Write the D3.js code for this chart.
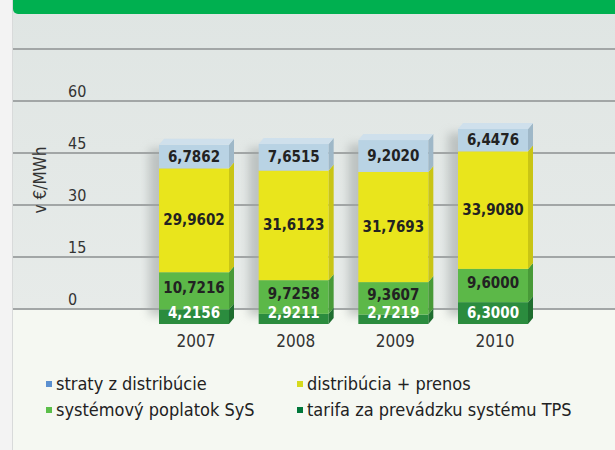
<!DOCTYPE html>
<html>
<head>
<meta charset="utf-8">
<script src="https://cdn.jsdelivr.net/npm/d3@7"></script>
<style>
  body { margin:0; background:#f2f3f2; }
  svg { display:block; }
</style>
</head>
<body>
<svg id="chart"></svg>
<script>
// data
years=["2007","2008","2009","2010"];
straty=[6.7862,7.6515,9.2020,6.4476];
distribucia=[29.9602,31.6123,31.7693,33.9080];
sys=[10.7216,9.7258,9.3607,9.6000];
tps=[4.2156,2.9211,2.7219,6.3000];
yTicks=[0,15,30,45,60];
seriesNames=["straty z distribúcie","distribúcia + prenos","systémový poplatok SyS","tarifa za prevádzku systému TPS"];

W=615; H=450;
svg=d3.select("#chart").attr("width",W).attr("height",H);

defs=svg.append("defs");
grad=defs.append("linearGradient").attr("id","bg").attr("x1",0).attr("y1",0).attr("x2",0).attr("y2",1);
grad.append("stop").attr("offset","0%").attr("stop-color","#dfe5e3");
grad.append("stop").attr("offset","100%").attr("stop-color","#e7ebe9");
blur=defs.append("filter").attr("id","shadow").attr("x","-50%").attr("y","-20%").attr("width","200%").attr("height","140%");
blur.append("feGaussianBlur").attr("stdDeviation",5);

// left strip and background
svg.append("rect").attr("x",0).attr("y",0).attr("width",13).attr("height",H).style("fill","#f3f3f3");
svg.append("rect").attr("x",13).attr("y",0).attr("width",W-13).attr("height",310).style("fill","url(#bg)");
svg.append("rect").attr("x",13).attr("y",310).attr("width",W-13).attr("height",H-310).style("fill","#f5f8f2");
svg.append("line").attr("x1",12.5).attr("x2",12.5).attr("y1",0).attr("y2",H)
     .style("stroke","#d8dada").style("stroke-width",1);

// green header
svg.append("rect").attr("x",13).attr("y",-10).attr("width",W).attr("height",24).attr("rx",5)
     .style("fill","#00b050");

y=d3.scaleLinear().domain([0,60]).range([309,101]);
x=d3.scalePoint().domain(years).range([194,493]);
baseOff=15;   // bars sit a bit lower than the 0 line (3D floor)
bw=70; dx=5; dy=6;

// gridlines
svg.selectAll(".grid").data([0,15,30,45,60,75]).enter().append("line")
     .attr("x1",13).attr("x2",W)
     .attr("y1",function(d){return y(d)}).attr("y2",function(d){return y(d)})
     .style("stroke","#a2a6a6").style("stroke-width",2);

// tick labels
svg.selectAll(".tick").data(yTicks).enter().append("text")
     .text(function(d){return d})
     .attr("x",68).attr("y",function(d){return y(d)-4})
     .attr("font-family","DejaVu Sans Condensed").attr("font-size","16px")
     .attr("fill","#333");

svg.append("text").text("v €/MWh")
     .attr("transform","translate(46,180) rotate(-90)")
     .attr("text-anchor","middle")
     .attr("font-family","DejaVu Sans Condensed").attr("font-size","17px")
     .attr("fill","#333");

series=[
  {vals:tps, fill:"#2b8c3e", side:"#1f6e2f", top:"#3a9c4c", txt:"#ffffff"},
  {vals:sys, fill:"#5cb848", side:"#489a38", top:"#6cc458", txt:"#222"},
  {vals:distribucia, fill:"#e9e51c", side:"#c9c515", top:"#eeea50", txt:"#222"},
  {vals:straty, fill:"#b9d3e4", side:"#9fb8c8", top:"#cfe0ec", txt:"#222"}
];

years.forEach(function(yr,i){
     cx=x(yr); x0=cx-bw/2; x1=cx+bw/2;
     total=series.reduce(function(s,d){return s+d.vals[i]},0);
     g=svg.append("g");
     // soft shadow behind bar
     g.append("rect").attr("x",x0-10).attr("y",y(total)+baseOff+4)
          .attr("width",bw).attr("height",y(0)-y(total)-12)
          .style("fill","#9da3a2").style("opacity",0.55).attr("filter","url(#shadow)");
     labels=svg.append("g");
     cum=0;
     series.forEach(function(s,j){
          v=s.vals[i];
          yb=y(cum)+baseOff; yt=y(cum+v)+baseOff;
          g.append("rect").attr("x",x0).attr("y",yt).attr("width",bw).attr("height",yb-yt)
               .style("fill",s.fill);
          g.append("polygon")
               .attr("points",[[x1,yb],[x1,yt],[x1+dx,yt-dy],[x1+dx,yb-dy]].join(" "))
               .style("fill",s.side);
          if(j==series.length-1){
               g.append("polygon")
                    .attr("points",[[x0,yt],[x0+dx,yt-dy],[x1+dx,yt-dy],[x1,yt]].join(" "))
                    .style("fill",s.top);
          }
          // label: bottom segment sits on the bar foot, the one above it a bit higher
          ly=(yt+yb)/2+5;
          if(j==0) ly=yb-6;
          if(j==1) ly=Math.min((yt+yb)/2+2, yb-7);
          labels.append("text")
               .text(d3.format(".4f")(v).replace(".",","))
               .attr("x",cx).attr("y",ly)
               .attr("text-anchor","middle")
               .attr("font-family","DejaVu Sans Condensed").attr("font-weight","bold")
               .attr("font-size","15px")
               .attr("fill",s.txt);
          cum+=v;
     });
     svg.append("text").text(yr)
          .attr("x",cx+2).attr("y",347)
          .attr("text-anchor","middle")
          .attr("font-family","DejaVu Sans Condensed").attr("font-size","17px")
          .attr("fill","#333");
});

// legend
legendColors=["#5b90d0","#d6da1e","#5bbf4a","#00773a"];
legendPos=[[46,384],[297,384],[46,410],[297,410]];
seriesNames.forEach(function(name,i){
     lg=svg.append("g");
     lg.append("rect").attr("x",legendPos[i][0]).attr("y",legendPos[i][1]-3)
          .attr("width",6).attr("height",6).style("fill",legendColors[i]);
     lg.append("text").text(name)
          .attr("x",legendPos[i][0]+10).attr("y",legendPos[i][1]+6)
          .attr("font-family","DejaVu Sans Condensed").attr("font-size","18px")
          .attr("fill","#222");
});
</script>
</body>
</html>
